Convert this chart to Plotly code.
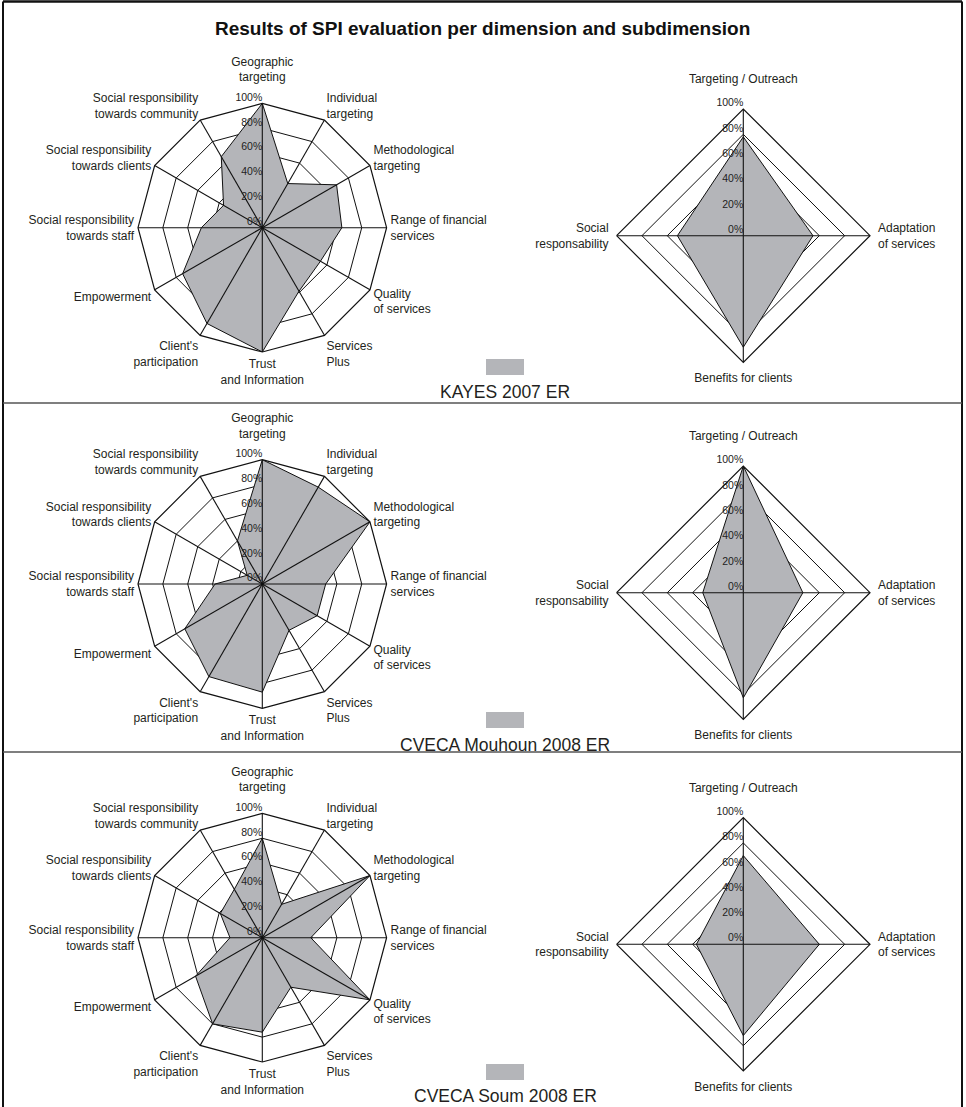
import plotly.graph_objects as go

# ---------------- data ----------------
title_text = "Results of SPI evaluation per dimension and subdimension"

sub_categories = [
    "Geographic<br>targeting<br> ",
    "Individual<br>targeting",
    "Methodological<br>targeting",
    "Range of financial<br>services",
    "Quality<br>of services",
    "Services<br>Plus",
    "Trust<br>and Information",
    "Client's<br>participation",
    "Empowerment",
    "Social responsibility<br>towards staff",
    "Social responsibility<br>towards clients",
    "Social responsibility<br>towards community",
]
dim_categories = [
    "Targeting / Outreach<br> ",
    "Adaptation<br>of services",
    "Benefits for clients",
    "Social<br>responsability",
]

series_names = ["KAYES 2007 ER", "CVECA Mouhoun 2008 ER", "CVECA Soum 2008 ER"]

kayes_sub = [100, 41, 69, 64, 54, 59, 100, 89, 74, 49, 36, 66]
mouhoun_sub = [100, 90, 100, 51, 51, 43, 87, 86, 72, 38, 14, 40]
soum_sub = [80, 31, 100, 39, 100, 46, 76, 80, 62, 26, 39, 45]

kayes_dim = [78, 55, 88, 52]
mouhoun_dim = [100, 47, 83, 32]
soum_dim = [70, 60, 72, 37]

tick_values = [0, 20, 40, 60, 80, 100]
tick_labels = ["0%", "20%", "40%", "60%", "80%", "100%"]

sub_series = [kayes_sub, mouhoun_sub, soum_sub]
dim_series = [kayes_dim, mouhoun_dim, soum_dim]

# ---------------- style / layout ----------------
W, H = 966, 1107
FILL = "#b4b5b9"
INK = "#231f20"
SANS = "Liberation Sans, Arial, sans-serif"

left_cx, left_r = 262.3, 124.3
right_cx, right_r = 743.3, 126.7
left_cy = [227.7, 584.0, 937.7]
right_cy = [235.7, 592.7, 944.3]
legend_text_y = [392, 745, 1096]
legend_swatch_top = [359, 712, 1064]


def dom(cx, cy, r):
    return dict(x=[(cx - r) / W, (cx + r) / W], y=[1 - (cy + r) / H, 1 - (cy - r) / H])


fig = go.Figure()
layout_polars = {}

# plotly hides text exactly at the pole, so the 0% label sits a hair off it
label_r = [max(v, 0.4) for v in tick_values]


def add_radar(idx, cats, vals, name, dmn, label_size, pct_size, ticklen):
    key = "polar" if idx == 1 else f"polar{idx}"
    sub = key
    # data polygon
    fig.add_trace(go.Scatterpolar(
        r=vals + vals[:1], theta=cats + cats[:1], subplot=sub,
        mode="lines", fill="toself", fillcolor=FILL,
        line=dict(color="#111111", width=1), name=name, showlegend=False,
        hoverinfo="skip"))
    # spokes drawn above the fill
    rr, tt = [], []
    for c in cats:
        rr += [0, tick_values[-1], None]
        tt += [c, c, c]
    fig.add_trace(go.Scatterpolar(
        r=rr, theta=tt, subplot=sub, mode="lines",
        line=dict(color="#111111", width=1.1), showlegend=False,
        hoverinfo="skip", connectgaps=False))
    # percentage labels along the first axis
    fig.add_trace(go.Scatterpolar(
        r=label_r, theta=[cats[0]] * len(tick_values), subplot=sub,
        mode="text", text=tick_labels, textposition="top left",
        textfont=dict(family=SANS, size=pct_size, color="#222222"),
        showlegend=False, hoverinfo="skip", cliponaxis=False))
    layout_polars[key] = dict(
        domain=dmn,
        bgcolor="rgba(0,0,0,0)",
        gridshape="linear",
        radialaxis=dict(range=[0, 100], tickvals=tick_values[1:], showticklabels=False,
                        ticks="", showline=False, gridcolor="#111111", gridwidth=1.1),
        angularaxis=dict(type="category", categoryarray=cats, rotation=90,
                         direction="clockwise", showgrid=False, showline=True,
                         linecolor="#111111", linewidth=1.2,
                         ticks="outside", ticklen=ticklen, tickcolor="rgba(0,0,0,0)",
                         tickfont=dict(family=SANS, size=label_size, color=INK)),
    )


idx = 1
for i in range(3):
    add_radar(idx, sub_categories, sub_series[i], series_names[i],
              dom(left_cx, left_cy[i], left_r), 12, 10.5, 1)
    idx += 1
    add_radar(idx, dim_categories, dim_series[i], series_names[i],
              dom(right_cx, right_cy[i], right_r), 12, 10.5, 5)
    idx += 1

shapes = []
annotations = []
# frame
shapes.append(dict(type="line", xref="paper", yref="paper", x0=3 / W, x1=3 / W, y0=0, y1=1 - 1.5 / H,
                   line=dict(color="#111111", width=2)))
shapes.append(dict(type="line", xref="paper", yref="paper", x0=962 / W, x1=962 / W, y0=0, y1=1 - 1.5 / H,
                   line=dict(color="#111111", width=2)))
shapes.append(dict(type="line", xref="paper", yref="paper", x0=3 / W, x1=962 / W, y0=1 - 1.5 / H, y1=1 - 1.5 / H,
                   line=dict(color="#111111", width=2.5)))
# separators
for sy in [403, 752]:
    shapes.append(dict(type="line", xref="paper", yref="paper", x0=3 / W, x1=962 / W,
                       y0=1 - sy / H, y1=1 - sy / H, line=dict(color="#555555", width=1.5)))
# legend swatches + names
for i in range(3):
    st = legend_swatch_top[i]
    shapes.append(dict(type="rect", xref="paper", yref="paper",
                       x0=486 / W, x1=524 / W, y0=1 - (st + 16) / H, y1=1 - st / H,
                       fillcolor=FILL, line=dict(width=0)))
    annotations.append(dict(text=series_names[i], xref="paper", yref="paper",
                            x=505 / W, y=1 - legend_text_y[i] / H, showarrow=False,
                            xanchor="center", yanchor="middle",
                            font=dict(family=SANS, size=17.5, color=INK)))

annotations.append(dict(text="<b>" + title_text + "</b>", xref="paper", yref="paper",
                        x=482 / W, y=1 - 29 / H, showarrow=False, xanchor="center", yanchor="middle",
                        font=dict(family=SANS, size=19, color="#111111")))

fig.update_layout(width=W, height=H, margin=dict(l=0, r=0, t=0, b=0),
                  paper_bgcolor="white", plot_bgcolor="white",
                  shapes=shapes, annotations=annotations, showlegend=False,
                  **layout_polars)

fig.write_html("out.html", config={"displayModeBar": False},
               post_script="document.body.style.margin='0';document.body.style.overflow='hidden';")
